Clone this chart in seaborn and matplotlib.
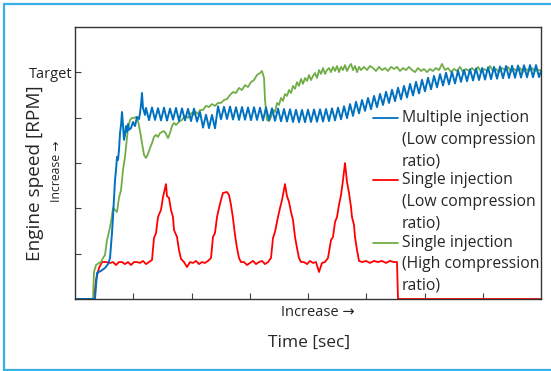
import numpy as np
import matplotlib
matplotlib.use("Agg")
import matplotlib.pyplot as plt
from matplotlib.lines import Line2D
import seaborn as sns

sns.set_style("white")
plt.rcParams['font.family'] = ['Open Sans', 'DejaVu Sans']

# ---------------- data (time in s, engine speed in % of target) ----------------
red_t = [0, 0.326, 0.361, 0.412, 0.464, 0.532, 0.601, 0.652, 0.704, 0.755, 0.807, 0.858, 0.910, 0.961,
         1.013, 1.064, 1.116, 1.167, 1.219, 1.270, 1.322, 1.356, 1.391, 1.425, 1.476, 1.511, 1.562, 1.579,
         1.614, 1.648, 1.682, 1.700, 1.751, 1.785, 1.820, 1.871, 1.923, 1.974, 2.026, 2.077, 2.129, 2.180,
         2.232, 2.283, 2.335, 2.369, 2.403, 2.438, 2.472, 2.506, 2.541, 2.609, 2.644, 2.678, 2.712, 2.747,
         2.781, 2.815, 2.850, 2.901, 2.953, 3.004, 3.056, 3.107, 3.159, 3.210, 3.262, 3.313, 3.365, 3.399,
         3.433, 3.485, 3.519, 3.554, 3.605, 3.639, 3.674, 3.708, 3.742, 3.777, 3.811, 3.845, 3.880, 3.931,
         3.983, 4.034, 4.086, 4.137, 4.189, 4.240, 4.292, 4.343, 4.395, 4.429, 4.464, 4.498, 4.532, 4.567,
         4.601, 4.635, 4.670, 4.704, 4.738, 4.755, 4.790, 4.807, 4.841, 4.876, 4.927, 4.996, 5.064, 5.133,
         5.202, 5.270, 5.339, 5.408, 5.476, 5.528, 5.545, 8.0]
red_v = [0, 0, 8.4, 13.7, 16.3, 16.3, 15.9, 16.3, 15.0, 16.3, 16.3, 15.4, 16.3, 15.0,
         16.3, 16.3, 15.9, 16.8, 15.4, 16.3, 17.2, 26.9, 29.1, 36.2, 39.3, 45.0, 50.7, 45.4,
         44.6, 39.3, 36.2, 30.4, 27.4, 21.6, 17.7, 16.3, 14.1, 16.3, 15.9, 16.8, 15.4, 16.3,
         15.9, 16.8, 18.1, 27.4, 29.1, 36.2, 40.1, 43.7, 46.8, 47.2, 45.9, 41.5, 35.7, 28.2,
         22.5, 18.1, 16.3, 16.3, 15.0, 15.9, 16.8, 15.4, 16.3, 16.8, 15.4, 16.3, 18.1, 26.9,
         29.6, 36.2, 40.1, 43.7, 50.7, 45.4, 42.8, 38.4, 34.9, 27.4, 22.5, 18.1, 16.3, 16.3,
         15.4, 16.8, 15.9, 16.3, 11.9, 15.9, 16.3, 18.1, 26.0, 27.4, 34.0, 36.2, 41.5, 45.9,
         52.5, 60.0, 51.6, 46.8, 40.6, 36.2, 32.6, 27.4, 21.6, 16.8, 16.3, 16.8, 15.9, 16.8,
         16.3, 16.8, 15.9, 16.8, 16.3, 16.3, 0, 0]

green_t = [0, 0.309, 0.326, 0.361, 0.412, 0.446, 0.481, 0.515, 0.549, 0.584, 0.618, 0.652, 0.687, 0.721,
           0.755, 0.790, 0.824, 0.858, 0.893, 0.910, 0.944, 0.979, 1.013, 1.047, 1.082, 1.116, 1.150,
           1.185, 1.219, 1.253, 1.288, 1.322, 1.356, 1.391, 1.425, 1.459, 1.494, 1.528, 1.562, 1.597,
           1.631, 1.665, 1.700, 1.734, 1.768, 1.803, 1.837, 1.871, 1.906, 1.940, 1.974, 2.009, 2.043,
           2.077, 2.112, 2.146, 2.197, 2.249, 2.300, 2.352, 2.403, 2.455, 2.506, 2.558, 2.609, 2.661,
           2.712, 2.764, 2.815, 2.867, 2.918, 2.970, 3.021, 3.073, 3.124, 3.176, 3.210, 3.245, 3.262,
           3.296, 3.330, 3.365, 3.399, 3.433, 3.468, 3.502, 3.536, 3.571, 3.605, 3.639, 3.674, 3.708,
           3.742, 3.777, 3.811, 3.845, 3.880, 3.914, 3.948, 3.983, 4.017, 4.052, 4.086, 4.120, 4.155,
           4.189, 4.223, 4.258, 4.292, 4.326, 4.361, 4.395, 4.429, 4.464, 4.498, 4.532, 4.567, 4.601,
           4.635, 4.670, 4.704, 4.738, 4.773, 4.807, 4.841, 4.876, 4.910,
           4.961, 5.013, 5.064, 5.116, 5.167, 5.219, 5.270, 5.322, 5.373, 5.425, 5.476, 5.528, 5.579,
           5.631, 5.682, 5.734, 5.785, 5.837, 5.888, 5.940, 5.991, 6.043, 6.094, 6.146, 6.197, 6.249,
           6.300, 6.352, 6.403, 6.455, 6.506, 6.558, 6.609, 6.661, 6.712, 6.764, 6.815, 6.867, 6.918,
           6.970, 7.021, 7.073, 7.124, 7.176, 7.227, 7.279, 7.330, 7.382, 7.433, 7.485, 7.536, 7.588,
           7.639, 7.691, 7.742, 7.794, 7.845, 7.897, 7.948, 8.000]
green_v = [0, 0, 11.9, 15.0, 15.9, 16.3, 18.1, 19.4, 26.0, 29.6, 34.0, 40.1, 39.3, 38.4,
           44.6, 48.1, 56.9, 62.7, 71.0, 75.4, 79.0, 79.9, 79.9, 80.3, 78.5, 74.1, 68.8,
           63.5, 62.2, 64.0, 66.6, 68.8, 71.5, 72.4, 71.5, 73.2, 73.7, 74.1, 72.8, 71.0,
           73.2, 76.3, 77.7, 76.8, 77.7, 78.5, 79.0, 80.3, 80.7, 79.9, 81.6, 82.1, 81.2,
           82.5, 81.6, 83.4, 83.4, 85.2, 84.7, 86.0, 85.2, 86.5, 86.5, 87.8, 88.2, 90.0,
           91.3, 90.9, 93.1, 92.2, 94.4, 93.5, 95.7, 96.6, 98.8, 99.7, 100.6, 97.5, 87.8,
           79.0, 78.5, 80.3, 83.4, 82.5, 86.5, 85.6, 88.7, 87.4, 90.4, 89.6, 92.2, 90.9,
           94.0, 92.7, 95.7, 94.0, 97.1, 94.9, 97.5, 96.2, 98.8, 96.6, 98.4, 99.7, 97.5,
           101.0, 99.3, 101.9, 99.3, 101.0, 101.9, 100.1, 102.4, 100.6, 102.8, 100.1, 102.4, 101.0,
           103.2, 100.6, 102.4, 103.7, 101.0, 102.8, 100.1, 102.4, 101.0,
           102.4, 101.0, 102.8, 101.9, 100.6, 102.4, 101.0, 101.9, 100.6, 102.4, 101.5, 102.4, 100.6,
           101.9, 101.0, 102.4, 101.0, 100.1, 101.9, 100.6, 101.5, 100.1, 101.5, 100.6, 101.9, 101.0,
           103.7, 101.0, 101.9, 100.1, 101.5, 100.6, 102.4, 100.1, 101.5, 100.6, 101.9, 100.6, 102.4,
           100.1, 101.5, 100.6, 102.8, 100.6, 101.5, 100.1, 101.9, 101.0, 102.4, 100.1, 101.5, 100.6,
           101.9, 100.1, 101.5, 100.6, 101.9, 100.6, 101.0, 101.0]

blue_rise_t = [0, 0.343, 0.378, 0.446, 0.515, 0.567, 0.601, 0.635, 0.652, 0.687, 0.704, 0.721, 0.738,
               0.755, 0.773, 0.790, 0.807, 0.824, 0.841, 0.858, 0.876, 0.893, 0.910, 0.927, 0.961,
               0.996, 1.030, 1.064, 1.099, 1.116, 1.133, 1.150, 1.167, 1.202]
blue_rise_v = [0, 0, 11.5, 12.4, 13.7, 15.4, 18.1, 29.1, 36.2, 52.5, 56.9, 62.7, 61.3,
               65.7, 73.2, 76.8, 82.5, 76.8, 70.2, 72.4, 76.3, 73.7, 77.2, 74.6, 75.4,
               78.1, 76.3, 80.3, 79.4, 82.1, 85.6, 90.9, 84.3, 81.2]
# oscillating part, sampled uniformly from t = 1.219 s to 7.966 s
blue_osc_v = [84.3, 78.9, 84.5, 79.0, 84.2, 78.8, 84.4, 78.7, 84.0, 79.1, 84.3, 78.6, 84.1, 78.8,
              83.9, 78.5, 84.0, 78.3, 82.5, 75.6, 81.3, 75.4, 81.2, 75.3, 85.0, 79.3, 84.8, 79.4,
              84.9, 79.2, 84.6, 79.0, 84.7, 79.1, 84.5, 78.9, 84.6, 79.0, 84.4, 78.8, 84.5, 78.9,
              84.1, 78.6, 84.0, 78.4, 83.8, 78.3, 83.7, 78.1, 83.5, 78.0, 83.4, 78.0, 83.5, 78.1,
              83.6, 78.2, 83.7, 78.3, 83.8, 78.5, 84.1, 78.8, 84.4, 79.3, 85.0, 79.8, 86.0, 80.8,
              87.0, 81.9, 87.8, 83.0, 88.7, 83.7, 89.6, 84.6, 90.5, 85.6, 91.4, 86.5, 92.3, 87.3,
              93.2, 88.1, 94.0, 88.9, 94.9, 89.8, 95.8, 90.7, 96.7, 91.6, 97.6, 92.5, 98.4, 93.4,
              99.2, 94.2, 99.8, 94.7, 100.2, 95.1, 100.8, 95.8, 101.1, 96.1, 101.4, 96.4, 101.7, 96.6,
              101.9, 96.8, 102.2, 97.0, 102.4, 97.2, 102.6, 97.4, 102.8, 97.5, 102.9, 97.6, 103.0, 97.7,
              103.1, 97.8, 103.2, 97.8, 103.2, 97.9]
blue_end_t = [8.0]
blue_end_v = [100.5]

y_ticks = [20, 40, 60, 80, 100]
y_tick_labels = ["", "", "", "", "Target"]
x_ticks = [1, 2, 3, 4, 5, 6, 7]

legend_labels = [["Multiple injection", "(Low compression", "ratio)"],
                 ["Single injection", "(Low compression", "ratio)"],
                 ["Single injection", "(High compression", "ratio)"]]
colors = ["#0070C0", "#FF0000", "#70AD47"]

blue_t = np.concatenate([blue_rise_t, np.linspace(1.219, 7.966, len(blue_osc_v)), blue_end_t])
blue_v = np.concatenate([blue_rise_v, blue_osc_v, blue_end_v])

# ---------------- figure ----------------
W, H = 551, 371
fig = plt.figure(figsize=(W / 100, H / 100), dpi=100)
ax = fig.add_axes([75 / W, 1 - 299 / H, 466 / W, 272 / H])

sns.lineplot(x=np.array(red_t), y=np.array(red_v), ax=ax, color=colors[1], linewidth=1.3,
             estimator=None, sort=False)
sns.lineplot(x=np.array(green_t), y=np.array(green_v), ax=ax, color=colors[2], linewidth=1.3,
             estimator=None, sort=False)
sns.lineplot(x=blue_t, y=blue_v, ax=ax, color=colors[0], linewidth=1.4,
             estimator=None, sort=False)

ax.set_xlim(0, 8)
ax.set_ylim(0, 120)
ax.set_xticks(x_ticks)
ax.set_xticklabels([""] * len(x_ticks))
ax.set_yticks(y_ticks)
ax.set_yticklabels(y_tick_labels, fontsize=10.5)
ax.tick_params(axis="both", direction="in", length=4, width=0.8, color="#404040", pad=2,
               left=True, bottom=True)
ax.set_xlabel("")
ax.set_ylabel("")
for s in ax.spines.values():
    s.set_color("#333333")
    s.set_linewidth(1.0)

# axis titles
fig.text(318 / W, 1 - 313 / H, "Increase →", ha="center", va="center", fontsize=10.5)
fig.text(309 / W, 1 - 343 / H, "Time [sec]", ha="center", va="center", fontsize=12.5)
fig.text(35 / W, 1 - 173 / H, "Engine speed [RPM]", ha="center", va="center", fontsize=13.7,
         rotation=90)
fig.text(57 / W, 1 - 171 / H, "Increase →", ha="center", va="center", fontsize=8.8, rotation=90)

# legend (key lines next to labels)
first_rows = [118, 180, 243]
for c, y0, labels in zip(colors, first_rows, legend_labels):
    fig.add_artist(Line2D([373 / W, 398 / W], [1 - y0 / H, 1 - y0 / H], color=c, linewidth=1.3,
                          transform=fig.transFigure))
    for i, lab in enumerate(labels):
        fig.text(402 / W, 1 - (y0 + 21.5 * i) / H, lab, ha="left", va="center", fontsize=11.3)

# outer blue frame (open on the right)
frame_kw = dict(color="#3AAFE6", linewidth=1.6, transform=fig.transFigure)
fig.add_artist(Line2D([4 / W, 4 / W], [1 - 4 / H, 1 - 370 / H], **frame_kw))
fig.add_artist(Line2D([4 / W, 1.0], [1 - 4 / H, 1 - 4 / H], **frame_kw))
fig.add_artist(Line2D([4 / W, 1.0], [1 - 370 / H, 1 - 370 / H], **frame_kw))

fig.savefig("out.png", dpi=100)
